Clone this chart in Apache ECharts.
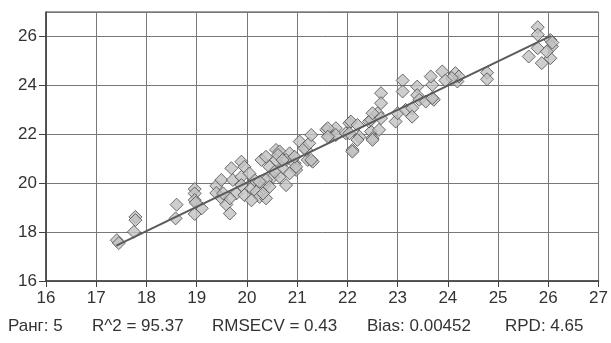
<!DOCTYPE html>
<html>
<head>
<meta charset="utf-8">
<script src="https://cdn.jsdelivr.net/npm/echarts@6/dist/echarts.min.js"></script>
<style>
  html, body { margin: 0; padding: 0; background: #fff; }
  #chart { width: 611px; height: 343px; }
</style>
</head>
<body>
<div id="chart"></div>
<script>
// измерено (x) / предсказано (y)
var points = [
  [17.41, 17.67], [17.45, 17.55],
  [17.78, 18.62], [17.78, 18.49], [17.75, 18.01],
  [18.6, 19.12], [18.58, 18.56],
  [18.96, 19.76], [18.96, 19.58], [18.96, 19.31], [18.96, 18.74], [19.1, 18.97], [18.98, 19.2],
  [19.39, 19.89], [19.39, 19.6], [19.49, 19.4], [19.59, 19.13], [19.66, 18.76],
  [19.49, 20.13], [19.69, 20.61], [19.89, 20.88], [19.95, 20.67], [19.72, 20.13],
  [19.89, 20.26], [19.89, 19.92], [19.79, 19.58], [19.95, 19.51], [20.09, 19.79],
  [20.19, 19.65], [20.25, 19.44], [20.38, 19.38], [20.15, 20.13], [20.05, 20.4],
  [20.29, 20.95], [20.38, 21.08], [20.45, 20.67], [20.52, 20.26], [20.35, 19.92],
  [20.58, 21.36], [20.58, 20.95], [19.66, 19.38], [19.53, 19.58],
  [20.65, 21.3], [20.62, 21.15], [20.85, 21.22], [20.78, 20.95], [20.95, 20.81],
  [20.71, 20.61], [20.98, 20.54], [20.65, 20.26], [20.78, 19.92], [20.38, 20.13],
  [20.45, 19.85], [20.25, 20.06], [20.32, 19.58], [20.09, 19.3], [20.55, 20.47],
  [20.85, 20.4], [20.71, 20.95], [20.98, 20.67], [20.95, 21.08], [21.05, 21.7],
  [21.21, 20.95], [21.18, 21.36], [21.31, 20.88], [21.14, 21.43], [21.24, 21.63],
  [21.28, 21.97], [21.28, 20.95], [21.58, 22.18], [21.77, 22.25], [21.64, 21.9],
  [21.61, 22.25], [21.77, 21.97], [21.61, 21.9], [22.04, 22.45], [21.97, 22.04],
  [22.1, 21.36], [22.24, 21.9], [22.47, 22.11], [22.5, 21.84], [22.07, 22.52],
  [22.2, 22.38], [22.04, 22.04], [22.2, 21.77], [22.1, 21.29], [22.43, 22.52],
  [22.5, 21.77], [22.6, 22.86], [22.63, 22.18], [22.47, 22.59], [22.5, 22.86],
  [22.67, 22.66], [22.96, 22.52], [23.0, 22.86], [22.67, 23.68], [22.67, 23.27],
  [23.1, 24.2], [23.1, 23.75], [23.39, 23.95], [23.39, 23.6], [23.16, 23.0],
  [23.29, 23.07], [23.29, 22.72], [23.43, 23.41], [23.56, 23.34], [23.72, 23.41],
  [23.69, 24.02], [23.66, 24.36], [23.89, 24.57], [24.15, 24.5], [24.19, 24.16],
  [24.22, 24.36], [24.08, 24.3], [23.69, 23.48], [23.95, 24.2],
  [24.78, 24.52], [24.78, 24.25],
  [25.79, 26.38], [25.79, 26.07], [26.04, 25.86], [26.07, 25.59], [25.79, 25.52],
  [25.61, 25.18], [26.04, 25.11], [25.87, 24.91], [25.97, 25.38], [26.08, 25.75]
];
var fitLine = [[17.4, 17.45], [26.05, 26.02]];
var xTicks = { min: 16, max: 27, step: 1 };
var yTicks = { min: 16, max: 27, step: 2 };
var stats = ['Ранг: 5', 'R^2 = 95.37', 'RMSECV = 0.43', 'Bias: 0.00452', 'RPD: 4.65'];
var statsX = [8, 92, 212, 367, 505];

var chart = echarts.init(document.getElementById('chart'));
var labelFont = {
  color: '#333',
  fontSize: 17,
  fontFamily: 'Liberation Sans, Arial, sans-serif'
};

chart.setOption({
  backgroundColor: '#fff',
  animation: false,
  grid: {
    left: 46,
    right: 11,
    top: 12,
    bottom: 62,
    show: true,
    borderColor: '#404040',
    borderWidth: 1
  },
  xAxis: {
    type: 'value',
    min: xTicks.min,
    max: xTicks.max,
    interval: xTicks.step,
    axisLine: { show: true, lineStyle: { color: '#404040', width: 1.5 } },
    axisTick: { show: true, length: 6, lineStyle: { color: '#404040' } },
    axisLabel: Object.assign({ margin: 9, showMaxLabel: true }, labelFont),
    splitLine: { show: true, lineStyle: { color: '#787878', width: 1 } }
  },
  yAxis: {
    type: 'value',
    min: yTicks.min,
    max: yTicks.max,
    interval: yTicks.step,
    axisLine: { show: true, lineStyle: { color: '#404040', width: 1.5 } },
    axisTick: { show: true, length: 7, lineStyle: { color: '#404040' } },
    axisLabel: Object.assign({ margin: 9, showMaxLabel: false }, labelFont),
    splitLine: { show: true, lineStyle: { color: '#787878', width: 1 } }
  },
  series: [
    {
      type: 'scatter',
      data: points,
      symbol: 'diamond',
      symbolSize: 13,
      itemStyle: { color: '#c2c2c2', borderColor: '#4a4a4a', borderWidth: 1 },
      z: 2
    },
    {
      type: 'line',
      data: fitLine,
      symbol: 'none',
      lineStyle: { color: '#5a5a5a', width: 2 },
      z: 3
    }
  ],
  graphic: stats.map(function (t, i) {
    return {
      type: 'text',
      left: statsX[i],
      top: 318,
      style: { text: t, fill: '#333', fontSize: 17, fontFamily: 'Liberation Sans, Arial, sans-serif' }
    };
  })
});
</script>
</body>
</html>
